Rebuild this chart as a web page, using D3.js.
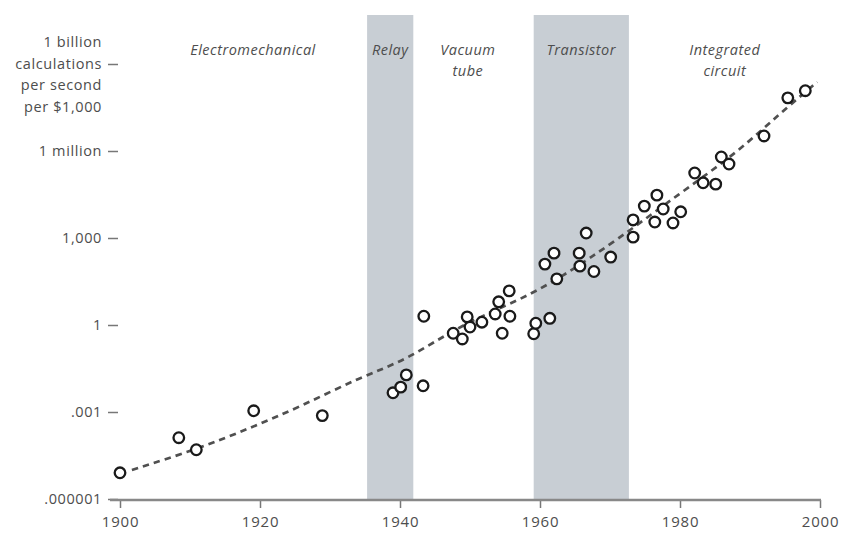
<!DOCTYPE html>
<html>
<head>
<meta charset="utf-8">
<script src="https://cdn.jsdelivr.net/npm/d3@7"></script>
<style>
  html, body { margin: 0; padding: 0; background: #fff; }
  svg { display: block; }
  text { font-family: "Open Sans", "Noto Sans", sans-serif; fill: #4d4d4d; }
</style>
</head>
<body>
<svg id="chart" width="843" height="535"></svg>
<script>
// Computing power: calculations per second per $1,000, by year
const years = [1900, 1908.4, 1910.9, 1919.1, 1928.9, 1939, 1940.1, 1940.9, 1943.3, 1943.4,
  1947.6, 1948.9, 1949.6, 1950, 1951.7, 1953.6, 1954.1, 1954.6, 1955.6, 1955.7,
  1959.1, 1959.4, 1961.4, 1960.7, 1962, 1962.4, 1965.6, 1965.7, 1966.6, 1967.7,
  1970.1, 1973.3, 1973.3, 1974.9, 1976.7, 1977.6, 1976.4, 1979, 1980.1,
  1982.1, 1983.3, 1985.1, 1985.9, 1987, 1992, 1995.4, 1997.9];
const values = [8e-6, 1.3e-4, 5e-5, 1.1e-3, 7.5e-4, 4.6e-3, 7.2e-3, 1.9e-2, 8e-3, 2.0,
  0.52, 0.33, 1.9, 0.85, 1.25, 2.4, 6.3, 0.52, 15, 2.0,
  0.5, 1.15, 1.7, 126, 300, 39, 300, 107, 1480, 70,
  220, 4200, 1070, 12600, 30000, 10000, 3550, 3300, 8000,
  174000, 80000, 72000, 620000, 355000, 3.3e6, 6.8e7, 1.2e8];

// Trend line (dashed)
const trendYears = [1901.7, 1911, 1918.6, 1925.7, 1934.3, 1941, 1948.6, 1957.1, 1962.9, 1971, 1980, 1988.1, 1994.3, 1999.6];
const trendValues = [1e-5, 5.2e-5, 2.8e-4, 1.5e-3, 1.6e-2, 6.2e-2, 1.0, 7.2, 42, 850, 35000, 850000, 2.0e7, 2.4e8];

// Technology eras
const eraNames = [["Electromechanical"], ["Relay"], ["Vacuum", "tube"], ["Transistor"], ["Integrated", "circuit"]];
const eraLabelYears = [1919, 1938.6, 1949.7, 1965.9, 1986.4];
const bandStarts = [1935.3, 1959.1];
const bandEnds = [1941.9, 1972.7];

// Axis ticks
const xTicks = [1900, 1920, 1940, 1960, 1980, 2000];
const yTicks = [1e-6, 1e-3, 1, 1e3, 1e6, 1e9];
const yTickLabels = [".000001", ".001", "1", "1,000", "1 million", "calculations"];
const topLabelLines = ["1 billion", "calculations", "per second", "per $1,000"];

const svg = d3.select("#chart");
const x = d3.scaleLinear().domain([1900, 2000]).range([120, 820]);
const y = d3.scaleLog().domain([1e-6, 1e9]).range([499, 64]);
const bandTop = 15;

// Shaded bands
svg.append("g").selectAll("rect")
  .data(bandStarts.map((s, i) => [s, bandEnds[i]]))
  .join("rect")
  .attr("x", d => x(d[0]))
  .attr("width", d => x(d[1]) - x(d[0]))
  .attr("y", bandTop)
  .attr("height", y(1e-6) - bandTop)
  .attr("fill", "#c8ced4");

// Era labels
const eraG = svg.append("g")
  .attr("font-style", "italic")
  .attr("font-size", 14.5)
  .attr("letter-spacing", 0.5)
  .attr("text-anchor", "middle");
eraNames.forEach((lines, i) => {
  const t = eraG.append("text").attr("x", x(eraLabelYears[i])).attr("y", 55);
  lines.forEach((ln, j) => {
    t.append("tspan").attr("x", x(eraLabelYears[i])).attr("dy", j === 0 ? 0 : 21).text(ln);
  });
});

// Y axis
const yAxis = d3.axisLeft(y)
  .tickValues(yTicks)
  .tickFormat((d, i) => yTickLabels[i])
  .tickSizeInner(10)
  .tickSizeOuter(0)
  .tickPadding(6);
const yg = svg.append("g").attr("transform", "translate(118,0)").call(yAxis);
yg.select(".domain").remove();
yg.selectAll(".tick line").attr("stroke", "#777").attr("stroke-width", 1.5);
yg.selectAll(".tick text")
  .attr("font-size", 14.5)
  .attr("letter-spacing", 0.6)
  .attr("fill", "#4d4d4d")
  .attr("font-family", null);
// Multi-line label at the top tick
const topText = yg.selectAll(".tick text").filter(d => d === 1e9);
topText.text(null);
topLabelLines.forEach((ln, j) => {
  topText.append("tspan").attr("x", -16).attr("dy", j === 0 ? "-1.18em" : "1.48em").text(ln);
});
topText.attr("dy", "0.32em");

// X axis
const xAxis = d3.axisBottom(x)
  .tickValues(xTicks)
  .tickFormat(d3.format("d"))
  .tickSizeInner(8)
  .tickSizeOuter(0)
  .tickPadding(8);
const xg = svg.append("g").attr("transform", "translate(0,500)").call(xAxis);
xg.select(".domain").remove();
xg.append("line")
  .attr("x1", x(1900) - 10).attr("x2", x(2000) + 1)
  .attr("y1", 0).attr("y2", 0)
  .attr("stroke", "#888").attr("stroke-width", 2.5);
xg.selectAll(".tick line").attr("stroke", "#777").attr("stroke-width", 1.5);
xg.selectAll(".tick text")
  .attr("font-size", 15)
  .attr("letter-spacing", 0.8)
  .attr("fill", "#4d4d4d")
  .attr("font-family", null);

// Trend line
const line = d3.line()
  .x((d, i) => x(trendYears[i]))
  .y((d, i) => y(trendValues[i]))
  .curve(d3.curveBasis);
svg.append("path")
  .datum(trendYears)
  .attr("d", line)
  .attr("fill", "none")
  .attr("stroke", "#505050")
  .attr("stroke-width", 2.7)
  .attr("stroke-dasharray", "6.5,5");

// Data points
svg.append("g").selectAll("circle")
  .data(years.map((yr, i) => [yr, values[i]]))
  .join("circle")
  .attr("cx", d => x(d[0]))
  .attr("cy", d => y(d[1]))
  .attr("r", 5.3)
  .attr("fill", "#fff")
  .attr("stroke", "#1a1a1a")
  .attr("stroke-width", 2.3);
</script>
</body>
</html>
